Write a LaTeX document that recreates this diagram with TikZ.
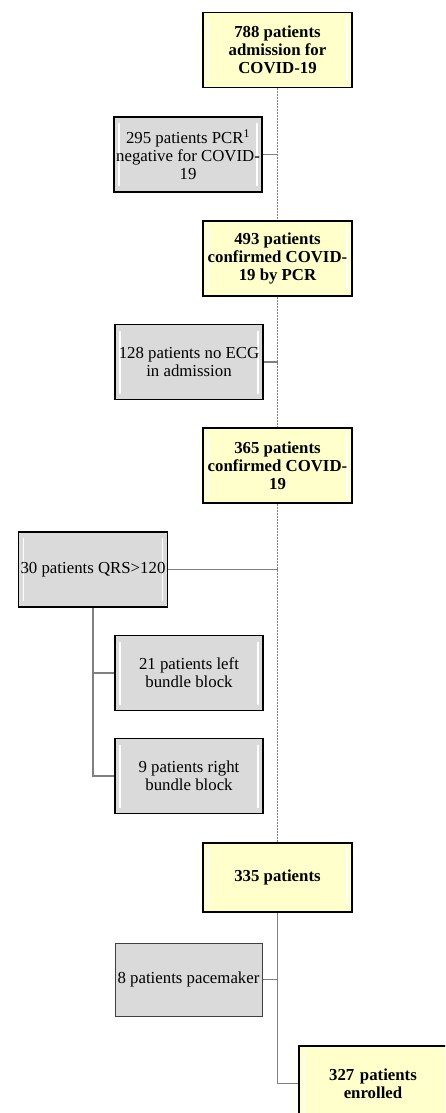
\documentclass[tikz,border=0pt]{standalone}
\usepackage{fontspec}
\setmainfont{Liberation Serif}
\usepackage{xcolor}
\definecolor{boxyellow}{RGB}{255,255,204}
\definecolor{boxgray}{RGB}{218,218,218}
\definecolor{linegray}{RGB}{128,128,128}

\begin{document}
\begin{tikzpicture}[x=1pt, y=-1pt,
    every node/.style={font=\fontsize{16.8}{18}\selectfont, align=center, inner sep=2pt},
    bevel/.style={path picture={
        \draw[white, line width=1.5pt] ([xshift=5pt,yshift=-6pt]path picture bounding box.north west) -- ([xshift=5pt,yshift=6pt]path picture bounding box.south west);
        \draw[white, line width=1.5pt] ([xshift=-5pt,yshift=-6pt]path picture bounding box.north east) -- ([xshift=-5pt,yshift=6pt]path picture bounding box.south east);}},
    mainbox/.style={draw, line width=1.6pt, fill=boxyellow, bevel, minimum width=149pt, minimum height=75pt, font=\fontsize{16.8}{18}\selectfont\bfseries},
    outbox/.style={draw, line width=1.6pt, fill=boxgray, bevel, minimum width=148pt, minimum height=75pt},
    trunk/.style={draw=linegray, line width=1.7pt, dash pattern=on 2pt off 1pt},
    branch/.style={draw=linegray, line width=1.3pt}]
      \useasboundingbox (0, 0) rectangle (445, 1113);
      \clip (0, 0) rectangle (445, 1113);

      \node[mainbox] (788) at (277.5, 50){788 patients\\admission for\\COVID-19};
      \node[outbox] (295) at (188, 154.5){295 patients PCR\textsuperscript{1}\\negative for COVID-\\19};
      \node[mainbox] (493) at (277.5, 258.5){493 patients\\confirmed COVID-\\19 by PCR};
      \node[outbox] (128) at (189, 362){128 patients no ECG\\in admission};
      \node[mainbox] (365) at (277.5, 465.5){365 patients\\confirmed COVID-\\19};
      \node[outbox] (30) at (93, 569.5){30 patients QRS>120};
      \node[outbox] (21) at (189, 673){21 patients left\\bundle block};
      \node[outbox] (9) at (189, 776){9 patients right\\bundle block};
      \node[mainbox, minimum height=69pt] (335) at (277.5, 877.5){335 patients};
      \node[draw=black!75, line width=1pt, fill=boxgray, minimum width=147pt, minimum height=73pt] (8) at (188.5, 979.5){8 patients pacemaker};
      \node[mainbox, minimum width=156pt, text width=140pt] (327) at (377, 1083.5){\hspace*{-8pt}327 patients\\\hspace*{-8pt}enrolled};

      \draw[trunk] (788) -- (493);
      \draw[trunk] (493) -- (365);
      \draw[trunk] (365) -- (335);
      \draw[branch] (295) -- (295 -| 788);
      \draw[branch] (128) -- (128 -| 788);
      \draw[branch] (30) -- (30 -| 788);
      \draw[branch] (30) |- (21);
      \draw[branch] (30) |- (9);
      \draw[branch] (8) -- (8 -| 335);
      \draw[branch] (335) |- (327);
    \end{tikzpicture}
\end{document}
